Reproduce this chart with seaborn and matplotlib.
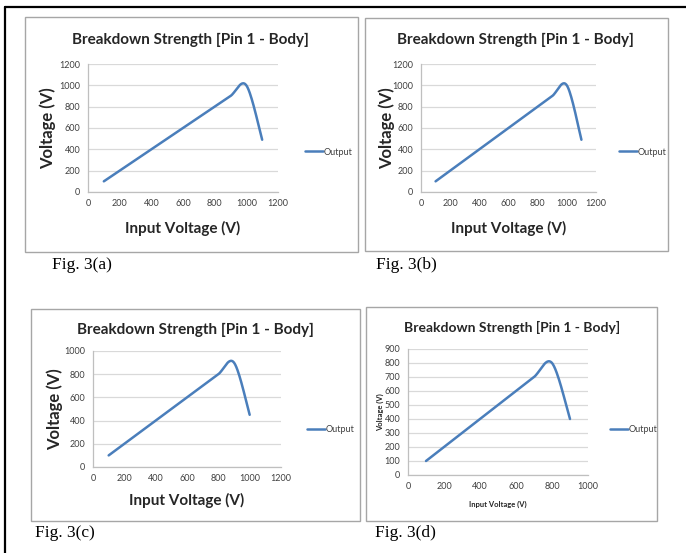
import numpy as np
import matplotlib
matplotlib.use('Agg')
import matplotlib.pyplot as plt
from matplotlib.patches import Rectangle
from matplotlib.lines import Line2D
import seaborn as sns

# chart data
in_ab = [100, 200, 300, 400, 500, 600, 700, 800, 900, 1000, 1100]
out_ab = [100, 200, 300, 400, 500, 600, 700, 800, 900, 1000, 490]
in_c = [100, 200, 300, 400, 500, 600, 700, 800, 900, 1000]
out_c = [100, 200, 300, 400, 500, 600, 700, 800, 900, 450]
in_d = [100, 200, 300, 400, 500, 600, 700, 800, 900]
out_d = [100, 200, 300, 400, 500, 600, 700, 800, 400]

captions = ['Fig. 3(a)', 'Fig. 3(b)', 'Fig. 3(c)', 'Fig. 3(d)']
title = 'Breakdown Strength [Pin 1 - Body]'

W, H = 686, 553
LINE = '#4A7EBB'
GRID = '#D9D9D9'
TXT = '#404040'
SANS = ['Lato', 'DejaVu Sans']
SERIF = ['Liberation Serif', 'DejaVu Serif']

sns.set_style('white')
plt.rcParams['font.family'] = SANS


def smooth(xs, ys, n=30):
    # excel style "smoothed line": catmull-rom segments as cubic beziers
    p = np.column_stack([xs, ys]).astype(float)
    p = np.vstack([p[0], p, p[-1]])
    out = []
    t = np.linspace(0, 1, n)[:, None]
    for i in range(1, len(p) - 2):
        p0, p1, p2, p3 = p[i - 1], p[i], p[i + 1], p[i + 2]
        c1 = p1 + (p2 - p0) / 6
        c2 = p2 - (p3 - p1) / 6
        seg = ((1 - t) ** 3) * p1 + 3 * ((1 - t) ** 2) * t * c1 \
            + 3 * (1 - t) * t ** 2 * c2 + t ** 3 * p2
        out.append(seg if i == 1 else seg[1:])
    out = np.vstack(out)
    return out[:, 0], out[:, 1]


def frac(x0, y0, x1, y1):
    return [x0 / W, 1 - y1 / H, (x1 - x0) / W, (y1 - y0) / H]


fig = plt.figure(figsize=(W / 100, H / 100), dpi=100)

# outer frame: top and left only
fig.add_artist(Line2D([5 / W, 1], [1 - 7 / H, 1 - 7 / H], color='black', lw=1.6))
fig.add_artist(Line2D([5 / W, 5 / W], [1 - 7 / H, 0], color='black', lw=1.6))

panels = [
    dict(box=(25, 17, 358, 252), ax=(88, 64, 278, 192), x=in_ab, y=out_ab, xmax=1200, ymax=1200, ystep=200,
         tpos=(190, 40), tsize=11, xsize=11, ysize=12, xl=(0.5, -0.227), yl=(-0.17, 0.5), leg=(300, 152),
         cap=(52, 265)),
    dict(box=(365, 18, 668, 251), ax=(421, 64, 596, 192), x=in_ab, y=out_ab, xmax=1200, ymax=1200, ystep=200,
         tpos=(515, 40), tsize=11, xsize=11, ysize=12, xl=(0.5, -0.227), yl=(-0.15, 0.5), leg=(614, 152),
         cap=(376, 265)),
    dict(box=(31, 309, 360, 521), ax=(93, 351, 281, 467), x=in_c, y=out_c, xmax=1200, ymax=1000, ystep=200,
         tpos=(195, 330), tsize=11, xsize=11, ysize=12, xl=(0.5, -0.224), yl=(-0.16, 0.5), leg=(302, 430),
         cap=(35, 533)),
    dict(box=(366, 307, 657, 521), ax=(408, 349, 588, 475), x=in_d, y=out_d, xmax=1000, ymax=900, ystep=100,
         tpos=(512, 327), tsize=10, xsize=5.5, ysize=5.5, xl=(0.5, -0.206), yl=(-0.133, 0.5), leg=(605, 430),
         cap=(375, 533)),
]

for cap, p in zip(captions, panels):
    bx = p['box']
    fig.add_artist(Rectangle((bx[0] / W, 1 - bx[3] / H), (bx[2] - bx[0]) / W, (bx[3] - bx[1]) / H,
                             transform=fig.transFigure, facecolor='none', edgecolor='#A6A6A6', lw=1.0))
    ax = fig.add_axes(frac(*p['ax']))
    ax.patch.set_alpha(0)
    sx, sy = smooth(p['x'], p['y'])
    sns.lineplot(x=sx, y=sy, ax=ax, color=LINE, lw=1.8, sort=False, estimator=None, label='Output')

    ax.set_xlim(0, p['xmax'])
    ax.set_ylim(0, p['ymax'])
    ax.set_xticks(np.arange(0, p['xmax'] + 1, 200))
    ax.set_yticks(np.arange(0, p['ymax'] + 1, p['ystep']))
    ax.grid(axis='y', color=GRID, lw=0.9)
    ax.set_axisbelow(True)
    for s in ['top', 'right']:
        ax.spines[s].set_visible(False)
    for s in ['left', 'bottom']:
        ax.spines[s].set_color('#BFBFBF')
        ax.spines[s].set_linewidth(0.9)
    ax.tick_params(axis='both', labelsize=6.5, colors='#BFBFBF', labelcolor=TXT, length=2.5, width=0.8,
                   direction='out', pad=3)
    ax.tick_params(axis='x', length=0, pad=5)

    ax.set_xlabel('Input Voltage (V)', fontsize=p['xsize'], fontweight='bold', color='#262626')
    ax.set_ylabel('Voltage (V)', fontsize=p['ysize'], fontweight='bold', color='#262626')
    ax.xaxis.set_label_coords(*p['xl'])
    ax.yaxis.set_label_coords(*p['yl'])

    fig.text(p['tpos'][0] / W, 1 - p['tpos'][1] / H, title, ha='center', va='center',
             fontsize=p['tsize'], fontweight='bold', color='#262626')

    ax.legend(loc='center left', bbox_to_anchor=(p['leg'][0] / W, 1 - p['leg'][1] / H),
              bbox_transform=fig.transFigure, frameon=False, fontsize=6.5, handlelength=2.0,
              handletextpad=0.1, borderpad=0, labelcolor=TXT)

    fig.text(p['cap'][0] / W, 1 - p['cap'][1] / H, cap, ha='left', va='center',
             fontsize=12.5, family=SERIF, color='black')

fig.savefig('out.png', dpi=100, facecolor='white')
